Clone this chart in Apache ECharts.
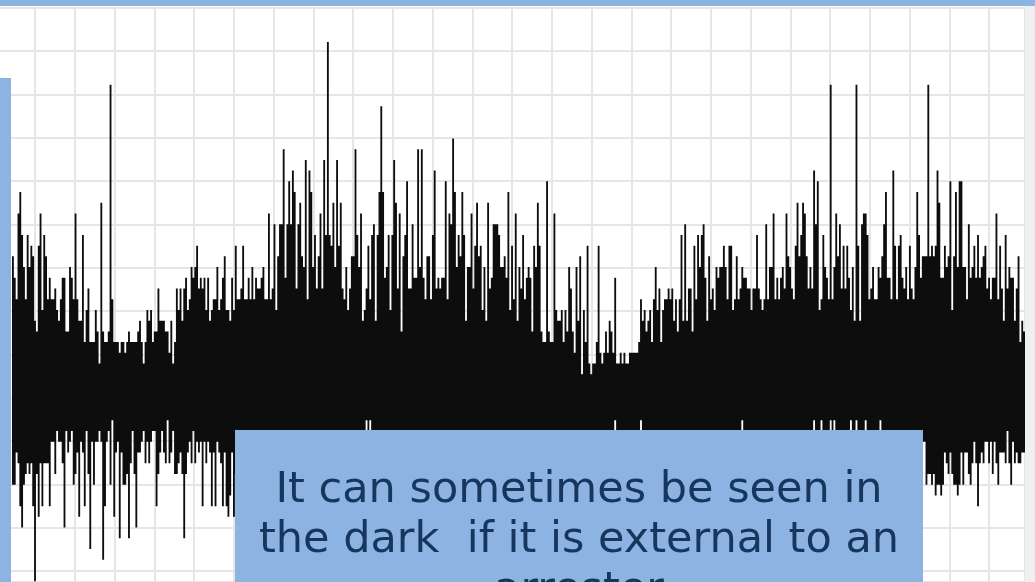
<!DOCTYPE html>
<html>
<head>
<meta charset="utf-8">
<title>waveform</title>
<script src="https://cdn.jsdelivr.net/npm/echarts@6/dist/echarts.min.js"></script>
<style>
html, body { margin: 0; padding: 0; background: #fff; overflow: hidden; }
#chart { width: 1035px; height: 582px; }
</style>
</head>
<body>
<div id="chart"></div>
<script>
// upper envelope of the waveform, one value per sample, in quantisation steps
const upper = [
  12,10,8,16,18,14,11,8,14,11, 13,12,6,5,13,16,7,14,12,8,
  10,8,8,9,7,6,8,10,10,5, 5,11,10,8,16,8,6,6,14,4,
  7,9,4,4,4,7,5,2,17,5, 4,4,5,28,8,4,4,4,3,4,
  4,3,4,5,4,4,4,4,5,6, 4,2,4,7,6,7,4,5,5,9,
  6,6,6,5,5,3,6,2,4,9, 7,9,6,9,10,7,8,11,10,11,
  13,9,10,9,10,7,10,6,7,8, 8,11,7,8,10,12,7,7,6,10,
  7,13,8,8,9,13,8,8,10,8, 11,8,10,9,9,10,11,8,8,16,
  8,9,15,7,12,15,15,22,10,15, 19,15,20,18,9,15,17,12,11,21,
  8,20,18,11,14,9,12,16,9,21, 14,32,14,13,17,11,21,13,17,9,
  8,11,7,9,12,12,22,14,11,16, 6,7,9,13,8,14,15,6,14,18,
  26,18,10,11,14,7,14,21,17,9, 16,5,12,14,19,9,9,15,10,10,
  22,11,22,10,8,12,12,8,14,20, 9,10,9,10,10,19,8,16,15,23,
  18,11,14,12,18,14,6,11,11,16, 9,13,17,12,13,7,11,6,17,9,
  10,15,15,15,14,11,11,12,10,18, 7,13,8,16,6,11,9,14,8,10,
  11,10,5,13,11,17,13,5,4,4, 19,5,4,4,16,7,6,6,7,4,
  7,5,11,9,5,3,11,6,12,1, 7,4,13,2,1,2,2,4,13,3,
  2,3,5,3,6,5,3,10,2,2, 3,2,3,2,2,3,3,3,3,3,
  4,8,6,7,5,6,7,4,8,11, 7,9,4,7,8,8,9,8,9,6,
  8,5,8,14,6,15,6,9,9,5, 13,8,14,11,14,15,10,6,12,8,
  9,7,11,10,11,11,13,11,8,13, 13,7,8,12,8,9,11,10,10,9,
  9,7,9,9,14,9,8,7,8,15, 8,11,11,16,8,10,8,10,11,9,
  16,12,11,9,8,13,17,12,14,17, 16,12,9,11,9,20,15,19,7,8,
  14,11,10,8,28,8,11,16,12,15, 9,13,9,13,10,7,11,6,28,13,
  6,15,16,16,14,8,9,11,8,8, 11,10,12,15,18,10,10,8,20,13,
  8,13,14,10,9,11,8,13,9,8, 11,18,14,10,12,12,12,28,12,13,
  12,13,20,17,10,10,13,11,12,19, 7,12,18,11,19,19,11,11,8,15,
  10,11,13,10,14,10,11,12,13,9, 10,8,10,10,16,8,13,9,6,14,
  9,11,10,10,6,9,12,4,6,5
]

// lower envelope, steps below the centre line. the part behind the text box is estimated
const lower = [
  9,9,6,7,11,13,9,8,7,8, 7,11,18,8,12,7,11,7,7,7,
  11,5,5,8,4,5,5,7,13,4, 6,5,4,9,8,6,12,5,6,11,
  4,8,15,5,9,5,5,4,5,16, 11,5,4,9,3,12,6,5,14,6,
  9,9,8,14,7,4,8,13,6,6, 5,4,7,5,7,5,4,4,11,8,
  6,4,6,7,3,7,6,4,8,8, 7,6,8,14,8,6,5,7,4,7,
  5,6,5,11,5,7,5,6,11,6, 11,5,6,7,11,6,11,12,10,6,
  12,8,
  5,5,4,5,5,5,5,5,5,5,5,5,5,5,5,5,5,5,5,5,
  5,5,5,5,5,5,5,5,5,5,5,5,5,5,5,5,5,5,4,5,
  5,5,5,5,5,5,5,5,5,5,5,5,5,5,5,5,5,5,5,5,
  5,5,4,5,5,5,5,5,5,5,3,5,3,5,5,5,5,5,5,5,
  5,5,5,5,5,5,5,5,5,5,5,4,5,5,5,5,5,5,5,5,
  5,5,5,5,5,5,5,5,5,5,5,5,5,5,5,5,5,5,5,5,
  5,5,5,5,5,5,5,5,5,5,5,5,5,5,5,5,5,5,5,5,
  5,5,5,5,5,5,5,5,5,5,4,5,5,5,5,5,5,5,5,5,
  5,5,5,5,5,5,5,5,5,5,5,5,5,5,5,5,5,5,5,4,
  5,5,5,5,5,5,5,5,5,5,5,4,5,5,5,5,5,5,5,4,
  5,5,5,5,5,3,5,5,5,5,5,5,5,5,4,5,5,5,5,3,
  5,5,5,5,5,5,5,5,5,5,5,5,5,4,5,5,5,5,5,5,
  5,5,5,5,5,5,5,5,5,4,5,5,5,5,5,5,5,5,5,5,
  5,5,5,5,5,5,5,5,5,5,5,5,5,5,3,5,5,5,5,5,
  5,5,4,5,5,5,5,5,5,5,5,5,5,5,5,5,4,5,4,5,
  4,5,4,5,4,5,4,5,4,5,4,5,4,3,5,5,5,3,5,5,
  5,5,3,5,3,5,4,5,5,4,5,5,5,3,5,5,3,5,4,5,
  5,3,5,5,4,5,5,5,5,3,5,5,5,5,4,5,5,5,5,5,
  5,5,5,5,5,5,5,5,5,5,5,5,5,5,
  9,8,8,9,8,10,9,9,10,9, 6,7,8,6,8,9,9,10,9,6,
  9,6,6,8,9,7,5,7,11,7, 6,7,5,5,7,5,8,5,7,9,
  6,6,6,7,4,7,9,5,7,6, 7,7,6,6,6
]

const boxLines = ['It can sometimes be seen in', 'the dark  if it is external to an', 'arrester']

const samples = upper.map((v, i) => i)
// the negative steps sit a little off the positive ones
const lowerValues = lower.map(v => -(v + 0.3))

const blue = '#8db3e2'
const waveColor = '#0d0d0d'
const gridLine = { show: true, lineStyle: { color: '#e6e6e6', width: 2 } }
const hidden = { axisLine: { show: false }, axisTick: { show: false }, axisLabel: { show: false } }

const chart = echarts.init(document.getElementById('chart'))

// the whole waveform as one closed outline, so there are no seams between samples
function renderWave(params, api) {
  if (params.dataIndex !== 0) return null
  const half = api.size([1, 0])[0] / 2
  const points = []
  samples.forEach(i => {
    const p = api.coord([i, upper[i]])
    points.push([p[0] - half, p[1]], [p[0] + half, p[1]])
  })
  for (let i = samples.length - 1; i >= 0; i--) {
    const p = api.coord([i, lowerValues[i]])
    points.push([p[0] + half, p[1]], [p[0] - half, p[1]])
  }
  return { type: 'polygon', shape: { points: points }, style: { fill: waveColor } }
}

const option = {
  animation: false,
  backgroundColor: '#fff',
  grid: [
    { left: 0, width: 1025, top: 7.7, height: 574.3 },
    { left: 35, width: 990, top: 7, height: 575 },
    { left: 12, width: 1013, top: 6, height: 576 }
  ],
  xAxis: [
    { type: 'value', gridIndex: 0, min: 0, max: 1, ...hidden, splitLine: { show: false } },
    { type: 'value', gridIndex: 1, min: 0, max: 24.9, interval: 1, ...hidden, splitLine: gridLine },
    { type: 'category', gridIndex: 2, data: samples, ...hidden, splitLine: { show: false } }
  ],
  yAxis: [
    { type: 'value', gridIndex: 0, inverse: true, min: -1, max: 12.25, interval: 1, ...hidden, splitLine: gridLine },
    { type: 'value', gridIndex: 1, min: 0, max: 1, ...hidden, splitLine: { show: false } },
    { type: 'value', gridIndex: 2, min: -18.377, max: 35.354, ...hidden, splitLine: { show: false } }
  ],
  series: [
    {
      type: 'custom', xAxisIndex: 2, yAxisIndex: 2, silent: true,
      data: samples.map(i => [i, upper[i], lowerValues[i]]),
      encode: { x: 0, y: [1, 2] },
      renderItem: renderWave
    }
  ],
  graphic: [
    { type: 'rect', z: 100, shape: { x: 1025, y: 0, width: 10, height: 582 }, style: { fill: '#f0f0f0' } },
    { type: 'rect', z: 101, shape: { x: 0, y: 0, width: 1035, height: 6 }, style: { fill: blue } },
    { type: 'rect', z: 101, shape: { x: 0, y: 78, width: 11, height: 504 }, style: { fill: blue } },
    { type: 'rect', z: 101, shape: { x: 235, y: 430, width: 688, height: 152 }, style: { fill: blue } },
    {
      type: 'text', z: 102, x: 579, y: 466,
      style: {
        text: boxLines.join('\n'),
        fill: '#17365d',
        font: '43px "DejaVu Sans"',
        lineHeight: 50,
        align: 'center',
        verticalAlign: 'top'
      }
    }
  ]
}

chart.setOption(option)
</script>
</body>
</html>
